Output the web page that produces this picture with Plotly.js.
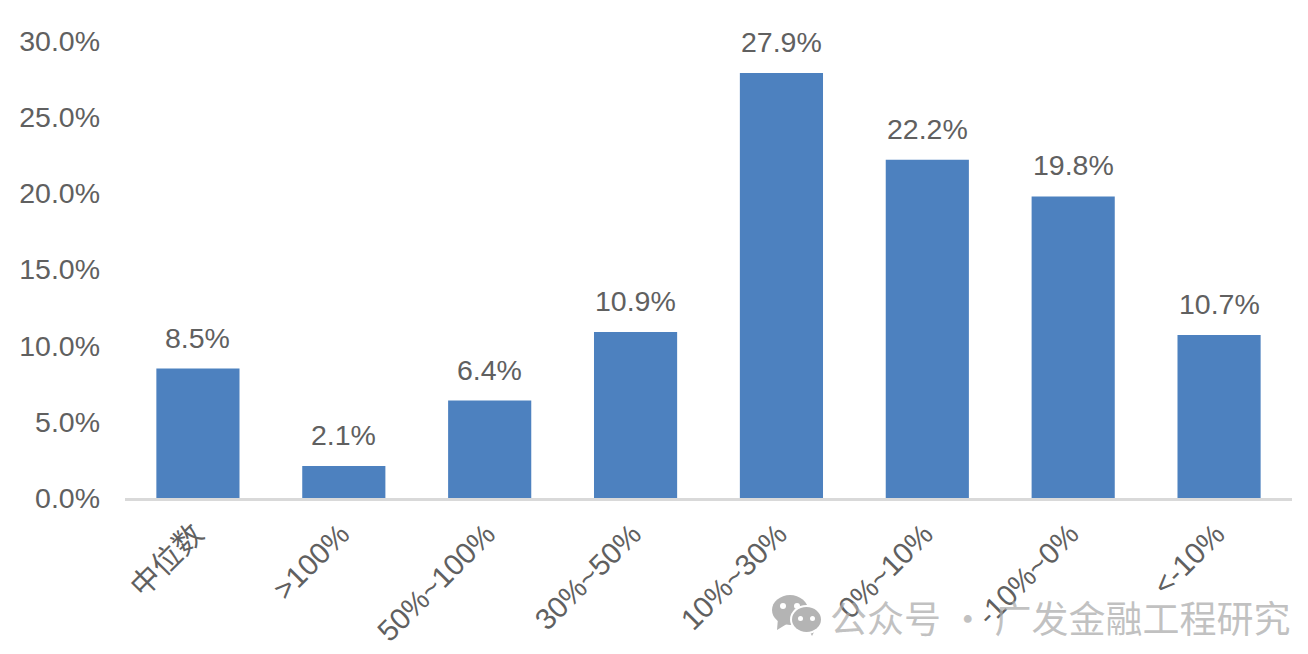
<!DOCTYPE html>
<html><head><meta charset="utf-8">
<script src="https://cdn.plot.ly/plotly-3.0.1.min.js"></script>
<style>html,body{margin:0;padding:0;background:#fff}</style></head>
<body><div id="chart" style="width:1308px;height:654px"></div>
<script>
const categories = ['中位数','>100%','50%~100%','30%~50%','10%~30%','0%~10%','-10%~0%','<-10%'];
const values = [8.5,2.1,6.4,10.9,27.9,22.2,19.8,10.7];
const yTicks = [0,5,10,15,20,25,30];
const yTickLabels = ['0.0%','5.0%','10.0%','15.0%','20.0%','25.0%','30.0%'];
const barColor = '#4d81bf', textColor = '#606060', mark = '#b4b4b4';
const font = 'Liberation Sans, Arial, "Noto Sans CJK SC", sans-serif';
const W=1308,H=654,L=125,R=16,T=41,B=156;
const px=x=>(x-L)/(W-L-R), py=y=>(H-B-y)/(H-T-B);
const ell=(x0,x1,y0,y1,c)=>({type:'circle',xref:'paper',yref:'paper',x0:px(x0),x1:px(x1),y0:py(y1),y1:py(y0),fillcolor:c,line:{width:0}});
const tail=(pts)=>({type:'path',xref:'paper',yref:'paper',fillcolor:mark,line:{width:0},
  path:'M'+pts.map(p=>px(p[0])+' '+py(p[1])).join(' L')+' Z'});
Plotly.newPlot('chart',[{
  type:'bar',x:categories,y:values,width:0.57,
  marker:{color:barColor},hoverinfo:'skip'
}],{
  width:W,height:H,
  margin:{l:L,r:R,t:T,b:B,pad:0},
  paper_bgcolor:'#fff',plot_bgcolor:'#fff',showlegend:false,
  font:{family:font},
  xaxis:{type:'category',range:[-0.5,7.5],tickangle:-45,ticks:'',showgrid:false,
    showline:true,linecolor:'#d9d9d9',linewidth:3,zeroline:false,automargin:false,
    ticklabelstandoff:4,ticklabelshift:-3,
    tickfont:{family:font,size:29.5,color:textColor}},
  yaxis:{range:[0,30],tickvals:yTicks,ticktext:yTickLabels,ticks:'',showgrid:false,
    showline:false,zeroline:false,automargin:false,ticklabelstandoff:24,
    tickfont:{family:font,size:28.5,color:textColor}},
  annotations:categories.map((c,i)=>({x:c,y:values[i],xref:'x',yref:'y',yanchor:'bottom',yshift:13,showarrow:false,
    text:values[i].toFixed(1)+'%',font:{family:font,size:28.5,color:textColor}})).concat([
    {xref:'paper',yref:'paper',x:px(1293),y:py(617),xanchor:'right',yanchor:'middle',showarrow:false,
    text:'公众号 · 广发金融工程研究',font:{family:'"Noto Sans CJK SC",sans-serif',size:37,color:'rgba(170,170,170,0.72)'}}]),
  shapes:[
    tail([[778,618],[777,630],[790,622]]),
    ell(772,808,595,625,mark),
    tail([[808,628],[812,636],[816,628]]),
    ell(790,823,605,634,'#fff'),
    ell(792,821,607,632,mark),
    ell(780,786,603,609,'#fff'),ell(794,800,603,609,'#fff'),
    ell(798,803,616,621,'#fff'),ell(810,815,616,621,'#fff')
  ]
},{displayModeBar:false,staticPlot:true});
</script></body></html>
